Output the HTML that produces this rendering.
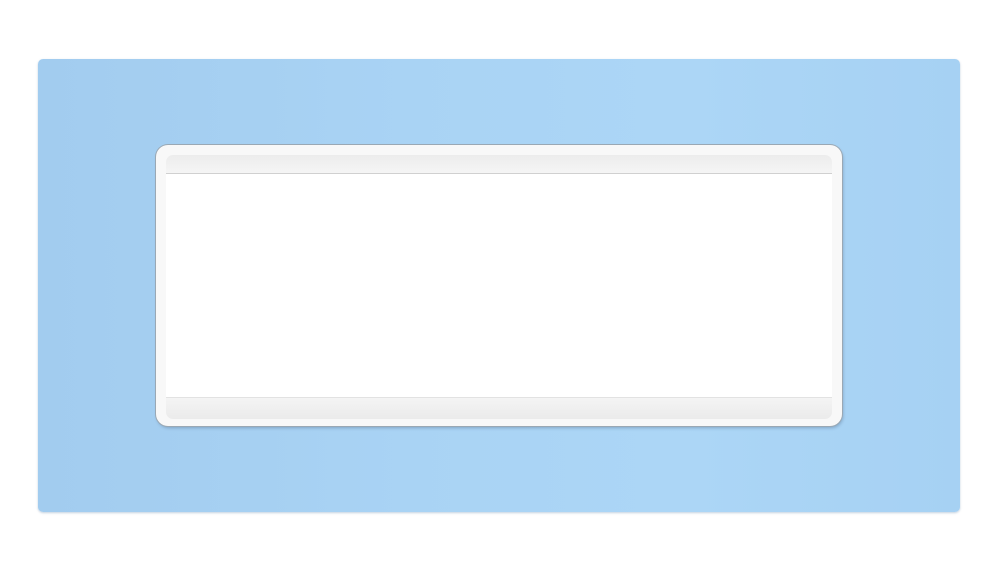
<!DOCTYPE html>
<html><head><style>
body{margin:0;width:1000px;height:572px;background:#fff;position:relative;overflow:hidden}
.plate{position:absolute;left:38px;top:59px;width:922px;height:453px;border-radius:5px;background:linear-gradient(90deg,#a2ccef 0%,#a9d3f4 40%,#acd6f6 70%,#a6d1f3 100%);box-shadow:0 1px 2px rgba(80,120,160,.35)}
.frame{position:absolute;left:156px;top:145px;width:686px;height:281px;border-radius:12px;background:#f8f8f8;box-shadow:0 0 0 1px #9aa8b4, 1px 2px 3px rgba(40,60,90,.3)}
.open{position:absolute;left:166px;top:155px;width:666px;height:263px;border-radius:7px;background:#fff}
.bt{position:absolute;left:166px;top:155px;width:666px;height:18px;border-radius:7px 7px 0 0;background:linear-gradient(#ececec,#f5f5f5);border-bottom:1px solid #d0d0d0}
.bb{position:absolute;left:166px;top:397px;width:666px;height:21px;border-radius:0 0 7px 7px;background:linear-gradient(#f4f4f4,#ebebeb);border-top:1px solid #e2e2e2}
</style></head><body>
<div class="plate"></div>
<div class="frame"></div>
<div class="open"></div>
<div class="bt"></div>
<div class="bb"></div>
</body></html>
